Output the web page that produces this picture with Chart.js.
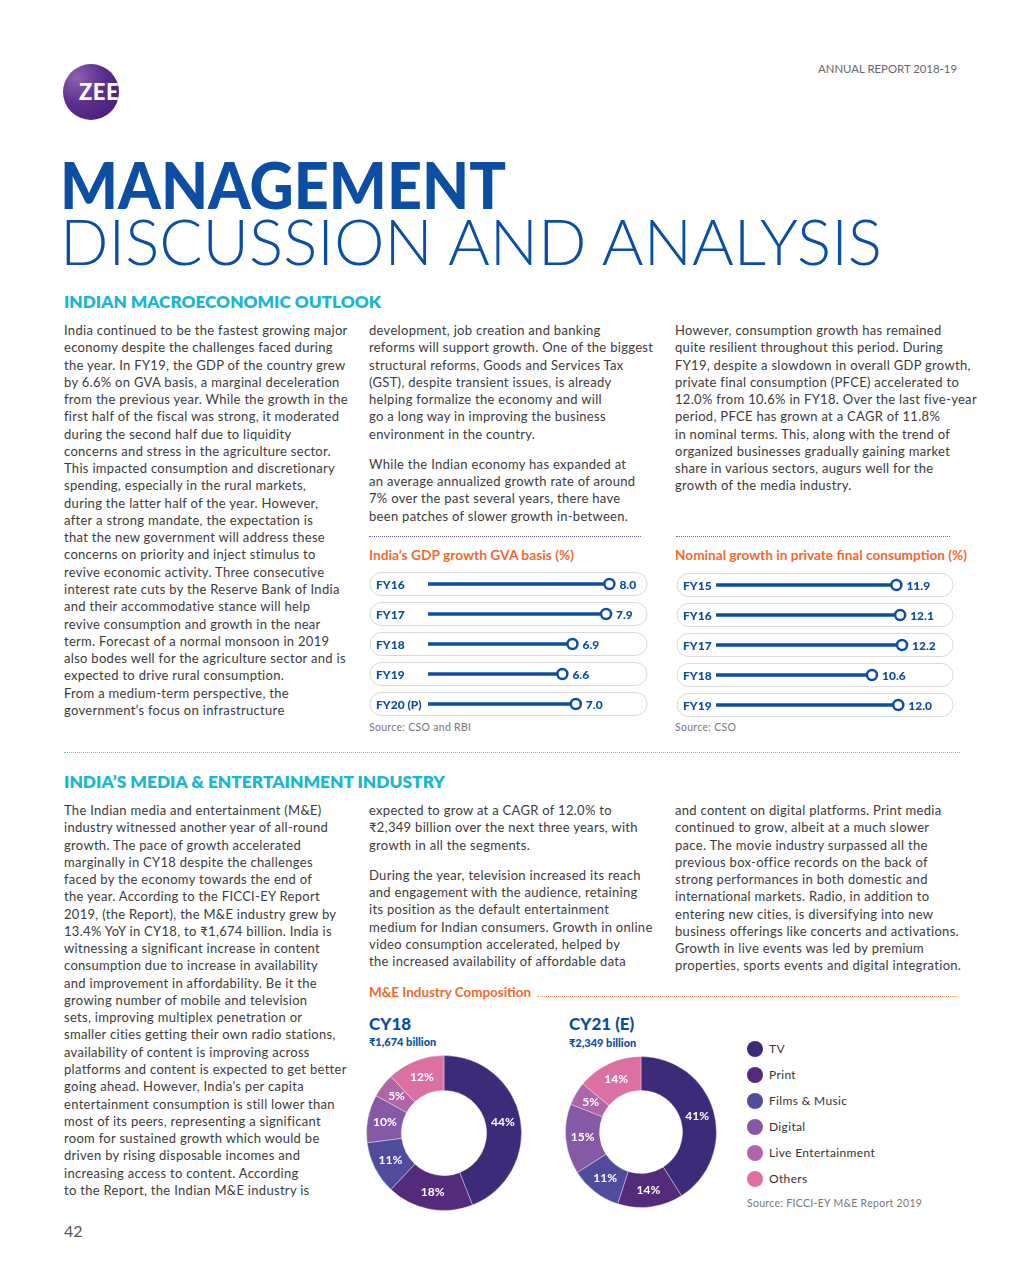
<!DOCTYPE html>
<html lang="en">
<head>
<meta charset="UTF-8">
<title>Management Discussion and Analysis</title>
<script src="https://cdn.jsdelivr.net/npm/chart.js"></script>
<style>
    body { margin: 0; background: #fff; font-family: "Lato", "DejaVu Sans", sans-serif; color: #3b3b3b; }
    .page { position: relative; width: 1020px; height: 1275px; overflow: hidden; }
    .abs { position: absolute; white-space: nowrap; }
    .fit { transform-origin: left center; display: inline-block; }
    .txt { position: absolute; font-size: 13px; letter-spacing: 0.3px; line-height: 17.27px; white-space: nowrap; }
    .txt p { margin: 0 0 13px 0; }
    .logo { position: absolute; left: 63px; top: 64px; width: 56px; height: 56px; border-radius: 50%;
        background: radial-gradient(circle at 25% 25%, #8a62b0 0%, #5b2e8e 45%, #3f1a73 100%); overflow: hidden; }
    .logo span { position: absolute; left: 16px; top: 14px; color: #fff; font-weight: 900; font-size: 22px; letter-spacing: 0.5px; }
    .blue { color: #0c4ea2; }
    .cyan { color: #1cb6d0; font-weight: 800; }
    .orange { color: #f16a2f; font-weight: 700; font-size: 12.5px; }
    .src { color: #777; font-size: 10.5px; letter-spacing: 0.3px; }
    .dots { position: absolute; height: 0; border-top: 1.3px dotted; }
    .legend { position: absolute; left: 747px; top: 1041px; font-size: 12px; letter-spacing: 0.35px; color: #333; }
    .legend div { height: 26px; display: flex; align-items: flex-start; }
    .legend i { display: inline-block; width: 16px; height: 16px; border-radius: 50%; margin-right: 6px; }
    .legend span { line-height: 16px; }
</style>
</head>
<body>
<div class="page">
    <div class="logo"><span>ZEE</span></div>
    <div class="abs" style="left:818px; top:62px; font-size:11px; color:#666;"><span class="fit" data-w="139">ANNUAL REPORT 2018-19</span></div>

    <div class="abs blue" style="left:60px; top:162px; font-size:64px; font-weight:900; line-height:46px;"><span class="fit" data-w="446">MANAGEMENT</span></div>
    <div class="abs blue" style="left:60px; top:218px; font-size:64px; font-weight:300; line-height:46px;"><span class="fit" data-w="822">DISCUSSION AND ANALYSIS</span></div>

    <div class="abs cyan" style="left:64px; top:292px; font-size:16px;"><span class="fit" data-w="317">INDIAN MACROECONOMIC OUTLOOK</span></div>

    <div class="txt" style="left:64px; top:322px;">
        India continued to be the fastest growing major<br>
        economy despite the challenges faced during<br>
        the year. In FY19, the GDP of the country grew<br>
        by 6.6% on GVA basis, a marginal deceleration<br>
        from the previous year. While the growth in the<br>
        first half of the fiscal was strong, it moderated<br>
        during the second half due to liquidity<br>
        concerns and stress in the agriculture sector.<br>
        This impacted consumption and discretionary<br>
        spending, especially in the rural markets,<br>
        during the latter half of the year. However,<br>
        after a strong mandate, the expectation is<br>
        that the new government will address these<br>
        concerns on priority and inject stimulus to<br>
        revive economic activity. Three consecutive<br>
        interest rate cuts by the Reserve Bank of India<br>
        and their accommodative stance will help<br>
        revive consumption and growth in the near<br>
        term. Forecast of a normal monsoon in 2019<br>
        also bodes well for the agriculture sector and is<br>
        expected to drive rural consumption.<br>
        From a medium-term perspective, the<br>
        government’s focus on infrastructure
    </div>
    <div class="txt" style="left:369px; top:322px;">
        <p>development, job creation and banking<br>
        reforms will support growth. One of the biggest<br>
        structural reforms, Goods and Services Tax<br>
        (GST), despite transient issues, is already<br>
        helping formalize the economy and will<br>
        go a long way in improving the business<br>
        environment in the country.</p>
        <p>While the Indian economy has expanded at<br>
        an average annualized growth rate of around<br>
        7% over the past several years, there have<br>
        been patches of slower growth in-between.</p>
    </div>
    <div class="txt" style="left:675px; top:322px;">
        However, consumption growth has remained<br>
        quite resilient throughout this period. During<br>
        FY19, despite a slowdown in overall GDP growth,<br>
        private final consumption (PFCE) accelerated to<br>
        12.0% from 10.6% in FY18. Over the last five-year<br>
        period, PFCE has grown at a CAGR of 11.8%<br>
        in nominal terms. This, along with the trend of<br>
        organized businesses gradually gaining market<br>
        share in various sectors, augurs well for the<br>
        growth of the media industry.
    </div>

    <div class="dots" style="left:369px; width:272px; top:536px; border-color:#7b5cc0;"></div>
    <div class="dots" style="left:676px; width:274px; top:536px; border-color:#7b5cc0;"></div>

    <div class="abs orange" style="left:369px; top:548px;"><span class="fit" data-w="205">India’s GDP growth GVA basis (%)</span></div>
    <div class="abs orange" style="left:675px; top:548px;"><span class="fit" data-w="292">Nominal growth in private final consumption (%)</span></div>

    <canvas id="gdpChart" class="abs" style="left:369px; top:569px;"></canvas>
    <canvas id="pfceChart" class="abs" style="left:676px; top:570px;"></canvas>

    <div class="abs src" style="left:369px; top:721px;">Source: CSO and RBI</div>
    <div class="abs src" style="left:675px; top:721px;">Source: CSO</div>

    <div class="dots" style="left:64px; width:896px; top:752px; border-color:#4fcbe0;"></div>

    <div class="abs cyan" style="left:64px; top:771px; font-size:17px;"><span class="fit" data-w="381">INDIA’S MEDIA &amp; ENTERTAINMENT INDUSTRY</span></div>

    <div class="txt" style="left:64px; top:802px;">
        The Indian media and entertainment (M&amp;E)<br>
        industry witnessed another year of all-round<br>
        growth. The pace of growth accelerated<br>
        marginally in CY18 despite the challenges<br>
        faced by the economy towards the end of<br>
        the year. According to the FICCI-EY Report<br>
        2019, (the Report), the M&amp;E industry grew by<br>
        13.4% YoY in CY18, to ₹1,674 billion. India is<br>
        witnessing a significant increase in content<br>
        consumption due to increase in availability<br>
        and improvement in affordability. Be it the<br>
        growing number of mobile and television<br>
        sets, improving multiplex penetration or<br>
        smaller cities getting their own radio stations,<br>
        availability of content is improving across<br>
        platforms and content is expected to get better<br>
        going ahead. However, India’s per capita<br>
        entertainment consumption is still lower than<br>
        most of its peers, representing a significant<br>
        room for sustained growth which would be<br>
        driven by rising disposable incomes and<br>
        increasing access to content. According<br>
        to the Report, the Indian M&amp;E industry is
    </div>
    <div class="txt" style="left:369px; top:802px;">
        <p>expected to grow at a CAGR of 12.0% to<br>
        ₹2,349 billion over the next three years, with<br>
        growth in all the segments.</p>
        <p>During the year, television increased its reach<br>
        and engagement with the audience, retaining<br>
        its position as the default entertainment<br>
        medium for Indian consumers. Growth in online<br>
        video consumption accelerated, helped by<br>
        the increased availability of affordable data</p>
    </div>
    <div class="txt" style="left:675px; top:802px;">
        and content on digital platforms. Print media<br>
        continued to grow, albeit at a much slower<br>
        pace. The movie industry surpassed all the<br>
        previous box-office records on the back of<br>
        strong performances in both domestic and<br>
        international markets. Radio, in addition to<br>
        entering new cities, is diversifying into new<br>
        business offerings like concerts and activations.<br>
        Growth in live events was led by premium<br>
        properties, sports events and digital integration.
    </div>

    <div class="abs orange" style="left:369px; top:985px;"><span class="fit" data-w="162">M&amp;E Industry Composition</span></div>
    <div class="dots" style="left:537px; width:420px; top:996px; border-color:#f39a6a;"></div>

    <div class="abs blue" style="left:369px; top:1013px; font-size:17px; font-weight:900;">CY18</div>
    <div class="abs blue" style="left:369px; top:1035px; font-size:11px; font-weight:900;">₹1,674 billion</div>
    <div class="abs blue" style="left:569px; top:1013px; font-size:17px; font-weight:900;">CY21 (E)</div>
    <div class="abs blue" style="left:569px; top:1036px; font-size:11px; font-weight:900;">₹2,349 billion</div>

    <canvas id="cy18Chart" class="abs" style="left:366px; top:1055px;"></canvas>
    <canvas id="cy21Chart" class="abs" style="left:565px; top:1056px;"></canvas>

    <div class="legend" id="legend"></div>
    <div class="abs src" style="left:747px; top:1197px;">Source: FICCI-EY M&amp;E Report 2019</div>

    <div class="abs" style="left:64px; top:1221px; font-size:16px; color:#555;">42</div>
</div>

<script>
// data
const gdpYears = ['FY16', 'FY17', 'FY18', 'FY19', 'FY20 (P)'];
const gdpGrowth = [8.0, 7.9, 6.9, 6.6, 7.0];

const pfceYears = ['FY15', 'FY16', 'FY17', 'FY18', 'FY19'];
const pfceGrowth = [11.9, 12.1, 12.2, 10.6, 12.0];

const segments = ['TV', 'Print', 'Films & Music', 'Digital', 'Live Entertainment', 'Others'];
const shareCY18 = [44, 18, 11, 10, 5, 12];
const shareCY21 = [41, 14, 11, 15, 5, 14];
const segmentColors = ['#3c2b78', '#542a7a', '#4f4c9b', '#8659a6', '#b064a9', '#dd70a3'];

const blue = '#0c4ea2';

// stretch headings to the width they have in the print
document.querySelectorAll('.fit').forEach(el => {
    const w = el.getBoundingClientRect().width;
    el.style.transform = 'scaleX(' + (el.dataset.w / w) + ')';
});

// legend
legend.innerHTML = segments.map((s, i) =>
    `<div><i style="background:${segmentColors[i]}"></i><span>${s.replace('&', '&amp;')}</span></div>`).join('');

function pill(ctx, x, y, w, h, r) {
    ctx.beginPath();
    ctx.moveTo(x + r, y);
    ctx.lineTo(x + w - r, y);
    ctx.arc(x + w - r, y + r, r, -Math.PI / 2, Math.PI / 2);
    ctx.lineTo(x + r, y + h);
    ctx.arc(x + r, y + r, r, Math.PI / 2, Math.PI * 1.5);
    ctx.closePath();
}

// rounded rows, year labels and value labels
const rowDecor = {
    id: 'rowDecor',
    beforeDatasetsDraw(chart) {
        const ctx = chart.ctx;
        const y = chart.scales.y;
        ctx.save();
        chart.data.labels.forEach((lab, i) => {
            const cy = y.getPixelForValue(i);
            pill(ctx, 1, cy - 11.5, chart.width - 3, 23, 11.5);
            ctx.strokeStyle = '#dadada';
            ctx.lineWidth = 1;
            ctx.stroke();
            ctx.fillStyle = blue;
            ctx.font = '900 12px Lato';
            ctx.textBaseline = 'middle';
            ctx.fillText(lab, 7, cy + 1);
        });
        ctx.restore();
    },
    afterDatasetsDraw(chart) {
        const ctx = chart.ctx;
        const meta = chart.getDatasetMeta(1);
        const vals = chart.data.datasets[1].data;
        ctx.save();
        ctx.fillStyle = blue;
        ctx.font = '900 12px Lato';
        ctx.textBaseline = 'middle';
        meta.data.forEach((pt, i) => {
            ctx.fillText(vals[i].toFixed(1), pt.x + 10, pt.y + 1);
        });
        ctx.restore();
    }
};

function lollipop(id, labels, values, min, max, padLeft, padRight, w, h) {
    const c = document.getElementById(id);
    c.width = w; c.height = h;
    return new Chart(c, {
        type: 'bar',
        data: {
            labels: labels,
            datasets: [{
                data: values,
                backgroundColor: blue,
                barThickness: 3,
                order: 2
            }, {
                type: 'line',
                data: values,
                showLine: false,
                pointRadius: 5,
                pointBorderWidth: 2.5,
                pointBorderColor: blue,
                pointBackgroundColor: '#fff',
                order: 1
            }]
        },
        options: {
            indexAxis: 'y',
            responsive: false,
            animation: false,
            devicePixelRatio: 1,
            layout: { autoPadding: false, padding: { left: padLeft, right: padRight, top: 0, bottom: 0 } },
            plugins: { legend: { display: false }, tooltip: { enabled: false } },
            scales: {
                x: { display: false, min: min, max: max },
                y: { display: false }
            }
        },
        plugins: [rowDecor]
    });
}

lollipop('gdpChart', gdpYears, gdpGrowth, 2.6, 9.0, 59, 6, 280, 150);
lollipop('pfceChart', pfceYears, pfceGrowth, 2.3, 14.7, 40, 6, 279, 150);

// percentage labels inside the rings
const ringLabels = {
    id: 'ringLabels',
    afterDatasetsDraw(chart) {
        const ctx = chart.ctx;
        const vals = chart.data.datasets[0].data;
        ctx.save();
        ctx.fillStyle = '#fff';
        ctx.font = 'bold 12px Lato';
        ctx.textAlign = 'center';
        ctx.textBaseline = 'middle';
        chart.getDatasetMeta(0).data.forEach((arc, i) => {
            const p = arc.tooltipPosition();
            ctx.fillText(vals[i] + '%', p.x, p.y);
        });
        ctx.restore();
    }
};

function ring(id, values, size) {
    const c = document.getElementById(id);
    c.width = size; c.height = size;
    return new Chart(c, {
        type: 'doughnut',
        data: {
            labels: segments,
            datasets: [{
                data: values,
                backgroundColor: segmentColors,
                borderColor: 'rgba(255,255,255,0.35)',
                borderWidth: 1
            }]
        },
        options: {
            responsive: false,
            animation: false,
            devicePixelRatio: 1,
            cutout: '55%',
            plugins: { legend: { display: false }, tooltip: { enabled: false } }
        },
        plugins: [ringLabels]
    });
}

ring('cy18Chart', shareCY18, 156);
ring('cy21Chart', shareCY21, 152);
</script>
</body>
</html>
